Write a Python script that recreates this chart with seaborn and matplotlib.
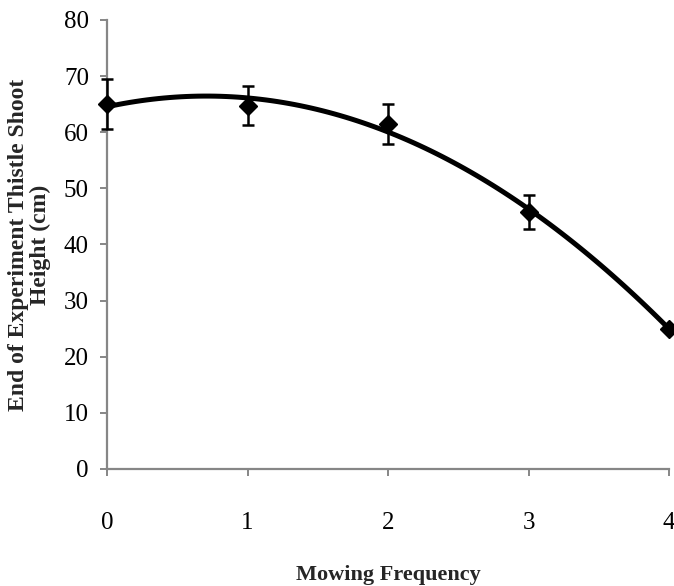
import numpy as np
import pandas as pd
import matplotlib
matplotlib.use("Agg")
import matplotlib.pyplot as plt
import seaborn as sns

# Data
mowing_frequency = [0, 1, 2, 3, 4]
shoot_height = [65.0, 64.7, 61.5, 45.8, 25.0]
height_error = [4.4, 3.5, 3.6, 3.1, 0.0]
x_tick_labels = ["0", "1", "2", "3", "4"]
y_ticks = [0, 10, 20, 30, 40, 50, 60, 70, 80]

df = pd.DataFrame({"freq": mowing_frequency, "height": shoot_height, "err": height_error})

sns.set_theme(style="white")
plt.rcParams["font.family"] = ["Liberation Serif", "DejaVu Serif"]

fig = plt.figure(figsize=(6.74, 5.86), dpi=100)
ax = fig.add_axes([0.1588, 0.1997, 0.9926 - 0.1588, 0.9659 - 0.1997])

axis_gray = "#868686"

# quadratic (order 2) trendline
sns.regplot(data=df, x="freq", y="height", order=2, ci=None, scatter=False,
            truncate=True, ax=ax,
            line_kws=dict(color="black", lw=3.6, solid_capstyle="round", clip_on=False, zorder=3))

# points with error bars
ax.errorbar(df["freq"], df["height"], yerr=df["err"], fmt="D", color="black",
            markersize=9, ecolor="black", elinewidth=1.8, capsize=4.5, capthick=1.8,
            clip_on=False, zorder=4)

ax.set_xlim(0, 4)
ax.set_ylim(0, 80)
ax.set_xticks(mowing_frequency)
ax.set_xticklabels(x_tick_labels)
ax.set_yticks(y_ticks)

for side in ["top", "right"]:
    ax.spines[side].set_visible(False)
for side in ["left", "bottom"]:
    ax.spines[side].set_color(axis_gray)
    ax.spines[side].set_linewidth(1.6)

ax.tick_params(axis="both", which="both", direction="out", colors=axis_gray,
               length=5, width=1.4, labelcolor="black", labelsize=18)
ax.tick_params(axis="x", pad=26, bottom=True)
ax.tick_params(axis="y", pad=8, left=True)

ax.set_xlabel("Mowing Frequency", fontsize=16, fontweight="bold", labelpad=22)
ax.set_ylabel("End of Experiment Thistle Shoot\nHeight (cm)", fontsize=17,
              fontweight="bold", labelpad=9, linespacing=1.05)

fig.savefig("out.png", dpi=100)
